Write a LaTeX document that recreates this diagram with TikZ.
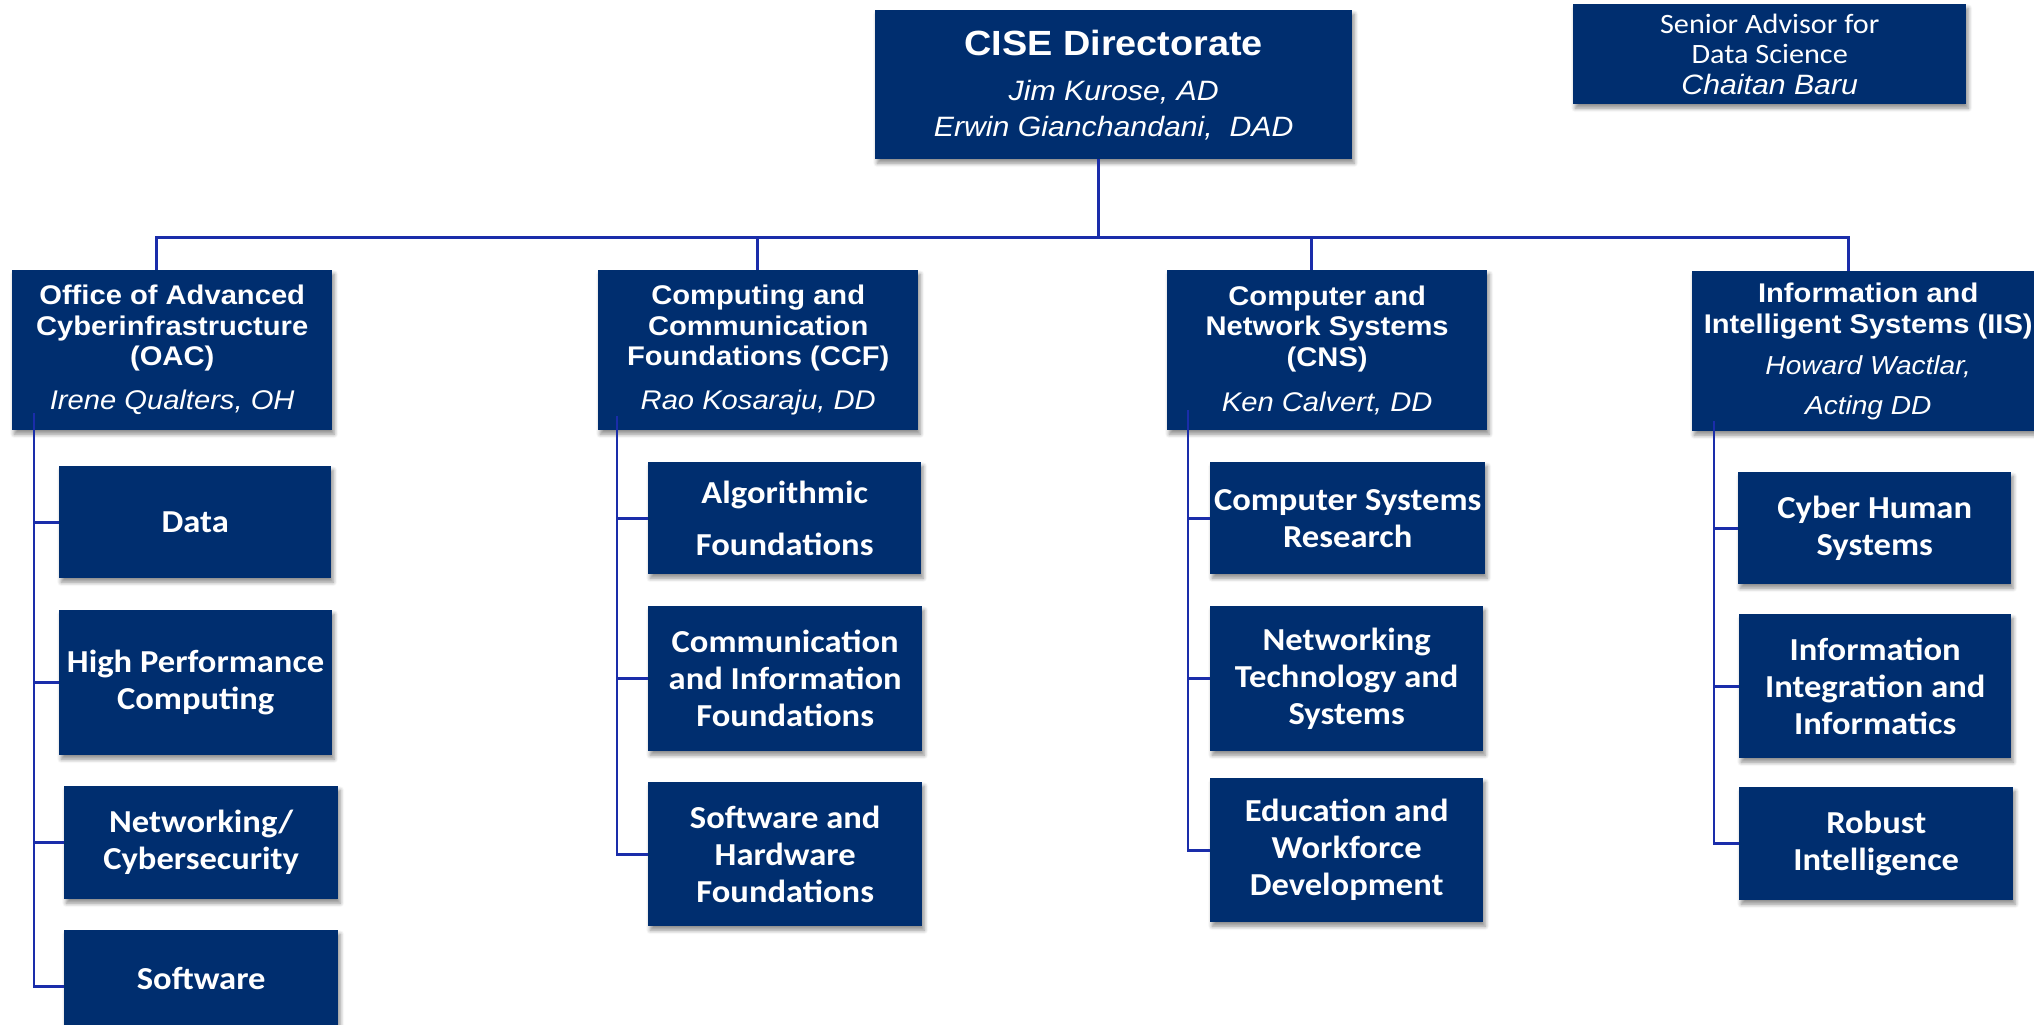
\documentclass[tikz,border=0pt]{standalone}
\usepackage{fontspec}
\setmainfont{Liberation Sans}[FakeStretch=1.08]
\newfontfamily\calibri{Carlito}[FakeStretch=1.08]
\usetikzlibrary{shadows.blur}
\definecolor{navy}{HTML}{002E6F}
\definecolor{wire}{HTML}{1A2DAA}
\newcommand\personname{\mdseries\itshape}

\begin{document}
\begin{tikzpicture}[x=1pt,y=-1pt,
  box/.style={fill=navy, text=white, inner sep=0pt, align=center, anchor=north west,
    blur shadow={shadow xshift=2pt, shadow yshift=-4pt, shadow blur radius=4pt,
      shadow blur steps=6, shadow opacity=45}},
  sz/.style 2 args={minimum width=#1pt, minimum height=#2pt},
  head/.style={box, font=\bfseries\fontsize{27}{30.5}\selectfont},
  unit/.style={box, font=\calibri\bfseries\fontsize{32}{37}\selectfont},
  conn/.style={draw=wire, line width=2.6pt}]

\useasboundingbox (0,0) rectangle (2034,1025);
\clip (0,0) rectangle (2034,1025);

% top level
\node[box, sz={477}{149}, font=\itshape\fontsize{28}{36}\selectfont] (cise) at (875,10)
  {{\upshape\bfseries\fontsize{35}{40}\selectfont CISE Directorate}\\[9pt]
   Jim Kurose, AD\\Erwin Gianchandani,\ \ DAD};
\node[box, sz={393}{100}, font=\calibri\fontsize{28}{30.5}\selectfont] (sads) at (1573,4)
  {Senior Advisor for\\Data Science\\\normalfont\itshape Chaitan Baru};

% divisions
\node[head, sz={320}{160}] (oac) at (12,270)
  {Office of Advanced\\Cyberinfrastructure\\(OAC)\\[13.5pt]\personname Irene Qualters, OH};
\node[head, sz={320}{160}] (ccf) at (598,270)
  {Computing and\\Communication\\Foundations (CCF)\\[13.5pt]\personname Rao Kosaraju, DD};
\node[head, sz={320}{160}] (cns) at (1167,270)
  {Computer and\\Network Systems\\(CNS)\\[15pt]\personname Ken Calvert, DD};
\node[head, sz={352}{160}] (iis) at (1692,271)
  {Information and\\Intelligent Systems (IIS)\\[11pt]\personname\fontsize{26}{30.5}\selectfont Howard Wactlar,\\[9pt]\personname\fontsize{26}{30.5}\selectfont Acting DD};

% OAC units
\node[unit, sz={272}{112}] (data) at (59,466) {Data};
\node[unit, sz={273}{145}] (hpc) at (59,610) {High Performance\\Computing};
\node[unit, sz={274}{113}] (net) at (64,786) {Networking/\\Cybersecurity};
\node[unit, sz={274}{97}] (soft) at (64,930) {Software};

% CCF units
\node[unit, sz={273}{112}] (alg) at (648,462) {Algorithmic\\[15pt]Foundations};
\node[unit, sz={274}{145}] (cif) at (648,606) {Communication\\and Information\\Foundations};
\node[unit, sz={274}{144}] (shf) at (648,782) {Software and\\Hardware\\Foundations};

% CNS units
\node[unit, sz={275}{112}] (csr) at (1210,462) {Computer Systems\\Research};
\node[unit, sz={273}{145}] (nts) at (1210,606) {Networking\\Technology and\\Systems};
\node[unit, sz={273}{144}] (ewd) at (1210,778) {Education and\\Workforce\\Development};

% IIS units
\node[unit, sz={273}{112}] (chs) at (1738,472) {Cyber Human\\Systems};
\node[unit, sz={272}{144}] (iii) at (1739,614) {Information\\Integration and\\Informatics};
\node[unit, sz={274}{113}] (ri) at (1739,787) {Robust\\Intelligence};

% bus from the directorate to the divisions
\coordinate (busy) at (0,237.7);
\coordinate (cisedrop) at ([xshift=-15.5pt]cise.south);
\coordinate (oacdrop) at ([xshift=-16pt]oac.north);
\coordinate (ccfdrop) at ([xshift=-1pt]ccf.north);
\coordinate (cnsdrop) at ([xshift=-16pt]cns.north);
\coordinate (iisdrop) at ([xshift=-20pt]iis.north);
\draw[conn] (oacdrop) |- (busy -| iisdrop) -- (iisdrop);
\draw[conn] (cisedrop) -- (cisedrop |- busy);
\draw[conn] (ccfdrop) -- (ccfdrop |- busy);
\draw[conn] (cnsdrop) -- (cnsdrop |- busy);

% trunks to the units
\coordinate (oacT) at ([xshift=22pt,yshift=17pt]oac.south west);
\coordinate (ccfT) at ([xshift=19pt,yshift=14pt]ccf.south west);
\coordinate (cnsT) at ([xshift=21pt,yshift=20pt]cns.south west);
\coordinate (iisT) at ([xshift=22pt,yshift=10pt]iis.south west);
\coordinate (softin) at ([yshift=-7.5pt]soft.west);
\foreach \u in {data,hpc,net} \draw[conn] (oacT) |- (\u.west);
\draw[conn] (oacT) |- (softin);
\foreach \u in {alg,cif,shf} \draw[conn] (ccfT) |- (\u.west);
\foreach \u in {csr,nts,ewd} \draw[conn] (cnsT) |- (\u.west);
\foreach \u in {chs,iii,ri} \draw[conn] (iisT) |- (\u.west);
\end{tikzpicture}
\end{document}
